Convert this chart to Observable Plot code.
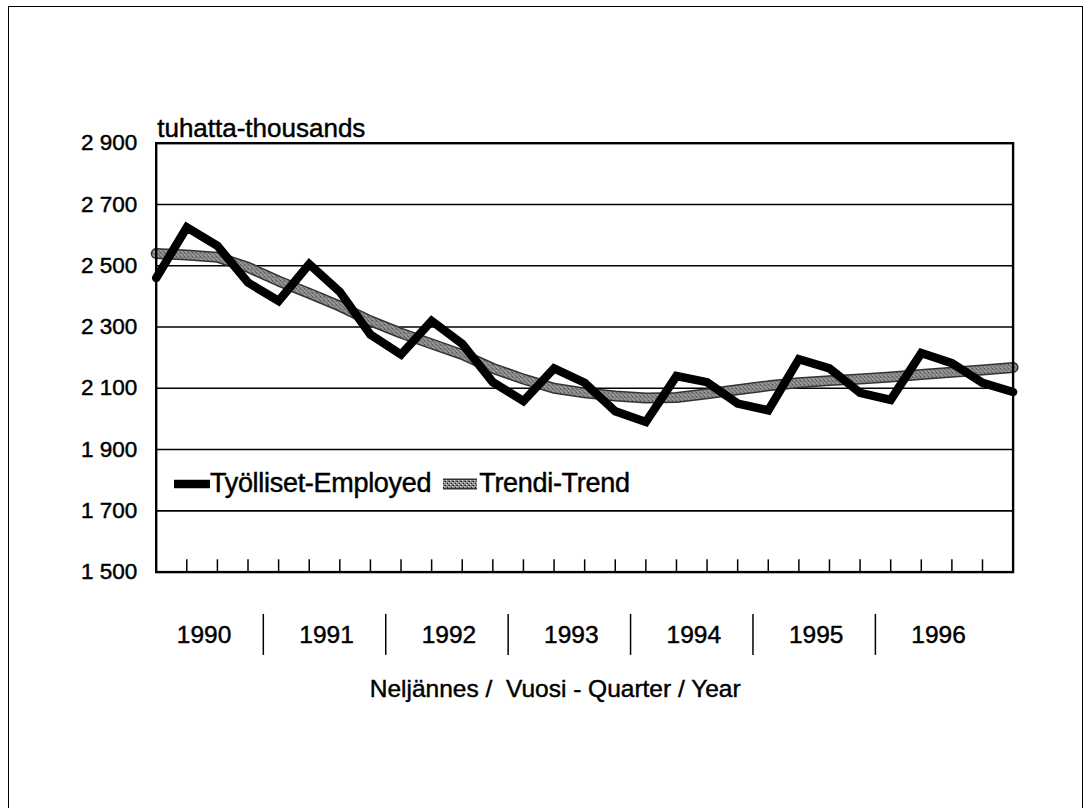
<!DOCTYPE html>
<html><head><meta charset="utf-8">
<script src="https://cdn.jsdelivr.net/npm/d3@7"></script>
<script src="https://cdn.jsdelivr.net/npm/@observablehq/plot@0.6"></script>
<style>
body{margin:0;background:#fff;}
#wrap{position:relative;width:1092px;height:808px;overflow:hidden;font-family:"Liberation Sans",Arial,sans-serif;}
#border{position:absolute;left:8px;top:6px;width:1075px;height:900px;border:1.5px solid #000;box-sizing:border-box;}
#chart{position:absolute;left:0;top:0;}
#chart svg text{stroke:#000;stroke-width:0.45px;}
#legend{position:absolute;left:172px;top:468px;font-size:27px;letter-spacing:-0.3px;color:#000;display:flex;align-items:center;white-space:nowrap;-webkit-text-stroke:0.45px #000;}
#legend .sw{display:inline-block;width:38px;height:30px;vertical-align:middle;}
</style></head>
<body><div id="wrap"><div id="border"></div><div id="chart"></div>
<div id="legend"></div></div>
<script>
const quarters = [
 "1990Q1","1990Q2","1990Q3","1990Q4","1991Q1","1991Q2","1991Q3","1991Q4",
 "1992Q1","1992Q2","1992Q3","1992Q4","1993Q1","1993Q2","1993Q3","1993Q4",
 "1994Q1","1994Q2","1994Q3","1994Q4","1995Q1","1995Q2","1995Q3","1995Q4",
 "1996Q1","1996Q2","1996Q3","1996Q4","1997Q1"];
const employed = [2460,2625,2565,2445,2385,2505,2415,2275,2210,2320,2245,2120,2058,2165,2118,2025,1990,2140,2120,2050,2028,2195,2165,2085,2062,2215,2182,2118,2088];
const trend = [2540,2535,2528,2495,2450,2410,2368,2320,2280,2245,2210,2165,2130,2100,2085,2075,2068,2070,2082,2095,2108,2118,2125,2130,2137,2145,2152,2160,2168];
const years = ["1990","1991","1992","1993","1994","1995","1996"];
const yTicks = [1500,1700,1900,2100,2300,2500,2700,2900];
const unitLabel = "tuhatta-thousands";
const xTitle = "Neljännes /  Vuosi - Quarter / Year";
const seriesNames = ["Työlliset-Employed","Trendi-Trend"];

const rows = quarters.map((q,i)=>({i, q, employed: employed[i], trend: trend[i]}));
const yearPos = years.map(y=>({y, x: quarters.indexOf(y+"Q1") + 1.5}));
const dividers = years.slice(0,-1).map(y=>quarters.indexOf(y+"Q4") + 0.5);
const fmt = d3.formatLocale({thousands:" ", grouping:[3], decimal:","}).format(",d");
const FONT = '"Liberation Sans",Arial,sans-serif';

const chart = Plot.plot({
  width: 1092, height: 808,
  marginLeft: 155.7, marginRight: 79.4, marginTop: 142.7, marginBottom: 236.4,
  style: {fontFamily: FONT, background: "transparent", color: "#000"},
  x: {type: "linear", domain: [0, quarters.length - 1], axis: null},
  y: {domain: [1500, 2900], axis: null},
  marks: [
    Plot.ruleY(yTicks, {stroke: "#000", strokeWidth: 1.6}),
    Plot.ruleX(rows, {x: "i", y1: 1500, y2: 1540, stroke: "#000", strokeWidth: 1.5}),
    Plot.line(rows, {x: "i", y: "trend", stroke: "#333", strokeWidth: 11}),
    Plot.line(rows, {x: "i", y: "trend", stroke: "url(#halftone)", strokeWidth: 8}),
    Plot.line(rows, {x: "i", y: "employed", stroke: "#000", strokeWidth: 8.5, strokeLinejoin: "miter", strokeMiterlimit: 4}),
    Plot.frame({stroke: "#000", strokeWidth: 2.4}),
    Plot.axisY(yTicks, {tickSize: 0, tickPadding: 19, tickFormat: fmt, fontSize: 22.5, label: null}),
    Plot.text([unitLabel], {frameAnchor: "top-left", dy: -25, dx: 1, textAnchor: "start", fontSize: 26}),
    Plot.text(yearPos, {x: "x", text: "y", frameAnchor: "bottom", dy: 71, dx: 2, fontSize: 24.5}),
    Plot.ruleX(dividers, {y1: 1362, y2: 1228, stroke: "#000", strokeWidth: 1.5}),
    Plot.text([xTitle], {frameAnchor: "bottom-left", dx: 399, dy: 125, textAnchor: "middle", fontSize: 24.5})
  ]
});
// halftone pattern for the trend line
const ns = "http://www.w3.org/2000/svg";
const defs = document.createElementNS(ns, "defs");
defs.innerHTML = `<pattern id="halftone" patternUnits="userSpaceOnUse" width="4" height="4">
  <rect width="4" height="4" fill="#8c8c8c"/>
  <rect x="0" y="0" width="1" height="1" fill="#222"/>
  <rect x="2" y="2" width="1" height="1" fill="#222"/>
  <rect x="3" y="0" width="1" height="1" fill="#444"/>
  <rect x="1" y="3" width="1" height="1" fill="#d8d8d8"/>
  <rect x="3" y="1" width="1" height="1" fill="#d8d8d8"/>
</pattern>`;
chart.insertBefore(defs, chart.firstChild);
document.getElementById("chart").appendChild(chart);

const lg = document.getElementById("legend");
lg.innerHTML =
  `<svg class="sw" viewBox="0 0 38 30"><line x1="2" y1="15" x2="38" y2="15" stroke="#000" stroke-width="8.5"/></svg>` +
  `<span>${seriesNames[0]}</span>` +
  `<svg class="sw" viewBox="0 0 38 30" style="margin-left:10px"><line x1="2" y1="15" x2="36" y2="15" stroke="#333" stroke-width="11"/><line x1="2" y1="15" x2="36" y2="15" stroke="url(#halftone)" stroke-width="8"/></svg>` +
  `<span>${seriesNames[1]}</span>`;
</script>
</body></html>
